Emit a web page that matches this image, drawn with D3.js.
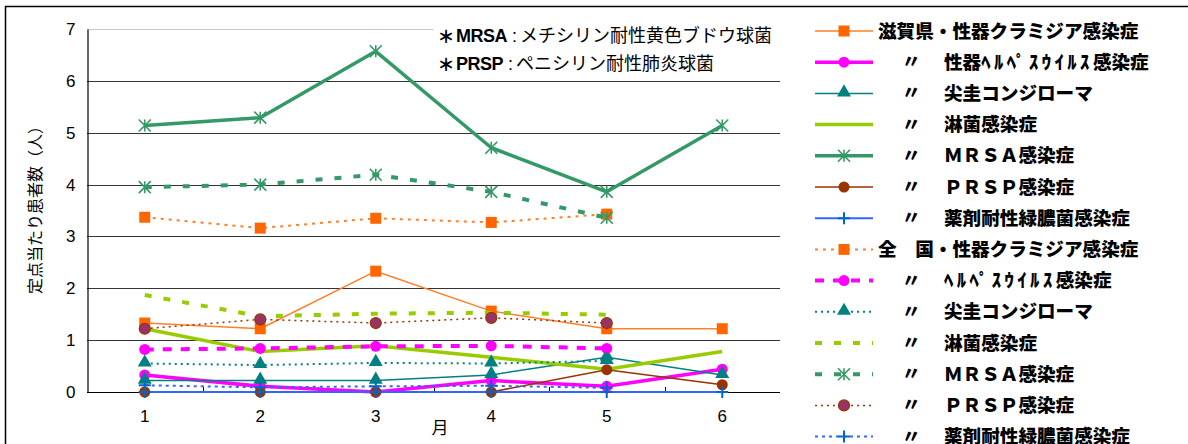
<!DOCTYPE html>
<html>
<head>
<meta charset="utf-8">
<title>定点当たり患者数</title>
<script src="https://d3js.org/d3.v7.min.js"></script>
<style>
  body { margin: 0; background: #fff; }
  svg { display: block; }
  .tick-label { font-family: "Liberation Sans", Arial, sans-serif; font-size: 17px; fill: #000; }
  .jp { font-family: "Noto Sans CJK JP", sans-serif; }
  .legend-text { font-family: "Noto Sans CJK JP", sans-serif; font-weight: 900; font-size: 18.6px; fill: #000; }
</style>
</head>
<body>
<svg id="chart" width="1188" height="444"></svg>
<script>
// data
var months = ["1", "2", "3", "4", "5", "6"];
var yTicks = [0, 1, 2, 3, 4, 5, 6, 7];

var shigaChlamydia   = [1.33, 1.22, 2.33, 1.56, 1.22, 1.22];
var shigaHerpes      = [0.33, 0.11, 0.00, 0.22, 0.11, 0.44];
var shigaCondyloma   = [0.22, 0.22, 0.22, 0.33, 0.67, 0.33];
var shigaGonorrhea   = [1.22, 0.78, 0.89, 0.67, 0.44, 0.78];
var shigaMRSA        = [5.14, 5.29, 6.57, 4.71, 3.86, 5.14];
var shigaPRSP        = [0.00, 0.00, 0.00, 0.00, 0.43, 0.14];
var shigaPseudomonas = [0.00, 0.00, 0.00, 0.00, 0.00, 0.00];

var natChlamydia   = [3.37, 3.16, 3.35, 3.27, 3.43];
var natHerpes      = [0.82, 0.84, 0.88, 0.89, 0.84];
var natCondyloma   = [0.55, 0.52, 0.56, 0.55, 0.60];
var natGonorrhea   = [1.87, 1.46, 1.51, 1.53, 1.49];
var natMRSA        = [3.95, 4.00, 4.19, 3.86, 3.36];
var natPRSP        = [1.22, 1.40, 1.33, 1.43, 1.33];
var natPseudomonas = [0.13, 0.09, 0.11, 0.12, 0.08];

// legend labels, split so half-width kana can be spaced like the original font
var legendLabels = [
  ["滋賀県・性器クラミジア感染症"], ["性器", "ﾍﾙﾍﾟｽｳｲﾙｽ", "感染症"], ["尖圭コンジローマ"], ["淋菌感染症"],
  ["ＭＲＳＡ感染症"], ["ＰＲＳＰ感染症"], ["薬剤耐性緑膿菌感染症"],
  ["全　国・性器クラミジア感染症"], ["", "ﾍﾙﾍﾟｽｳｲﾙｽ", "感染症"], ["尖圭コンジローマ"], ["淋菌感染症"],
  ["ＭＲＳＡ感染症"], ["ＰＲＳＰ感染症"], ["薬剤耐性緑膿菌感染症"]
];

// styles, one per series in legend order
var series = [
  {values: shigaChlamydia,   color: "#ff7f2a", width: 1.5, dash: null,   marker: "square",   mfill: "#ff6600", mstroke: "none"},
  {values: shigaHerpes,      color: "#ff00ff", width: 3.5, dash: null,   marker: "circle",   mfill: "#ff00ff", mstroke: "none"},
  {values: shigaCondyloma,   color: "#008080", width: 1.5, dash: null,   marker: "triangle", mfill: "#008080", mstroke: "none"},
  {values: shigaGonorrhea,   color: "#99cc00", width: 3.5, dash: null,   marker: null},
  {values: shigaMRSA,        color: "#339966", width: 3.5, dash: null,   marker: "star",     mfill: "none", mstroke: "#339966"},
  {values: shigaPRSP,        color: "#993300", width: 1.5, dash: null,   marker: "circle",   mfill: "#993300", mstroke: "none"},
  {values: shigaPseudomonas, color: "#3366ff", width: 2,   dash: null,   marker: "plus",     mfill: "none", mstroke: "#0066cc"},
  {values: natChlamydia,     color: "#ff7f2a", width: 2,   dash: "3,5",  marker: "square",   mfill: "#ff6600", mstroke: "none"},
  {values: natHerpes,        color: "#ff00ff", width: 4,   dash: "9,9",  marker: "circle",   mfill: "#ff00ff", mstroke: "none"},
  {values: natCondyloma,     color: "#008080", width: 2,   dash: "2,4",  marker: "triangle", mfill: "#008080", mstroke: "none"},
  {values: natGonorrhea,     color: "#99cc00", width: 4,   dash: "7,12", marker: null},
  {values: natMRSA,          color: "#339966", width: 4,   dash: "7,12", marker: "star",     mfill: "none", mstroke: "#339966"},
  {values: natPRSP,          color: "#993300", width: 1.5, dash: "2,4",  marker: "circle",   mfill: "#993366", mstroke: "#993300"},
  {values: natPseudomonas,   color: "#3366ff", width: 2,   dash: "3,4",  marker: "plus",     mfill: "none", mstroke: "#0066cc"}
];

var svg = d3.select("#chart");

// outer chart frame (cropped at right / bottom)
svg.append("path")
  .attr("d", "M5.5,444 L5.5,6.5 L1188,6.5")
  .attr("fill", "none").attr("stroke", "#000").attr("stroke-width", 1.5);

var x = d3.scaleBand().domain(months).range([87, 780]);
var y = d3.scaleLinear().domain([0, 7]).range([392, 29]);
var xc = function(m) { return x(m) + x.bandwidth() / 2; };

// gridlines
svg.append("g").selectAll("line").data(yTicks.filter(function(d) { return d > 0; }))
  .join("line")
  .attr("x1", 87).attr("x2", 780)
  .attr("y1", function(d) { return Math.round(y(d)) + 0.5; })
  .attr("y2", function(d) { return Math.round(y(d)) + 0.5; })
  .attr("stroke", function(d) { return d === 7 ? "#c8c8c8" : "#333"; })
  .attr("stroke-width", 1.2);

// annotation box (covers top border line)
svg.append("rect").attr("x", 433).attr("y", 18).attr("width", 347).attr("height", 58).attr("fill", "#fff");

// axes
var yAxis = d3.axisLeft(y).tickValues(yTicks).tickFormat(d3.format("d")).tickSize(0).tickPadding(12);
var gy = svg.append("g").attr("transform", "translate(87.5,0)").call(yAxis);
gy.select(".domain").attr("stroke", "#000").attr("stroke-width", 1.2);
gy.selectAll("text").attr("class", "tick-label").attr("font-size", null).attr("font-family", null);

svg.append("line").attr("x1", 87).attr("x2", 780).attr("y1", 392.5).attr("y2", 392.5)
  .attr("stroke", "#000").attr("stroke-width", 1.2);
// category separator ticks (inside)
svg.append("g").selectAll("line").data(months.slice(1))
  .join("line")
  .attr("x1", function(m) { return Math.round(x(m)) + 0.5; })
  .attr("x2", function(m) { return Math.round(x(m)) + 0.5; })
  .attr("y1", 392).attr("y2", 387)
  .attr("stroke", "#000").attr("stroke-width", 1);
svg.append("g").selectAll("text").data(months)
  .join("text")
  .attr("class", "tick-label")
  .attr("x", xc).attr("y", 422)
  .attr("text-anchor", "middle")
  .text(function(d) { return d; });

// axis titles
svg.append("text").attr("class", "jp")
  .attr("transform", "translate(41,206) rotate(-90)")
  .attr("text-anchor", "middle").attr("font-size", 16)
  .text("定点当たり患者数（人）");
svg.append("text").attr("class", "jp")
  .attr("x", 440).attr("y", 434).attr("text-anchor", "middle").attr("font-size", 17)
  .text("月");

// annotation
var notes = [["MRSA", "メチシリン耐性黄色ブドウ球菌"], ["PRSP", "ペニシリン耐性肺炎球菌"]];
notes.forEach(function(n, i) {
  var ny = 42 + i * 28;
  svg.append("text").attr("class", "jp").attr("x", 446).attr("y", ny + 1)
    .attr("text-anchor", "middle").attr("font-weight", 900).attr("font-size", 17).text("＊");
  var t = svg.append("text").attr("x", 456).attr("y", ny).attr("font-size", 18);
  t.append("tspan").attr("font-family", "Liberation Sans, Arial, sans-serif").attr("font-weight", 700)
    .attr("letter-spacing", -0.5).text(n[0]);
  t.append("tspan").attr("font-family", "Liberation Sans, Arial, sans-serif").text(" : ");
  t.append("tspan").attr("class", "jp").attr("dx", -2).text(n[1]);
});

// marker drawing
function drawMarker(g, s, cx, cy) {
  if (!s.marker) return;
  if (s.marker === "star") {
    var r = 6;
    g.append("path")
      .attr("d", "M0," + (-r) + "V" + r + "M" + (-r) + "," + (-r) + "L" + r + "," + r + "M" + (-r) + "," + r + "L" + r + "," + (-r))
      .attr("transform", "translate(" + cx + "," + cy + ")")
      .attr("fill", "none").attr("stroke", s.mstroke).attr("stroke-width", 1.6);
  } else if (s.marker === "plus") {
    var p = 6;
    g.append("path")
      .attr("d", "M0," + (-p) + "V" + p + "M" + (-p) + ",0H" + p)
      .attr("transform", "translate(" + cx + "," + cy + ")")
      .attr("fill", "none").attr("stroke", s.mstroke).attr("stroke-width", 2);
  } else {
    var types = {square: d3.symbolSquare, circle: d3.symbolCircle, triangle: d3.symbolTriangle};
    var sizes = {square: 121, circle: 95, triangle: 85};
    g.append("path")
      .attr("d", d3.symbol().type(types[s.marker]).size(sizes[s.marker])())
      .attr("transform", "translate(" + cx + "," + (s.marker === "triangle" ? cy - 1 : cy) + ")")
      .attr("fill", s.mfill).attr("stroke", s.mstroke).attr("stroke-width", 1.2);
  }
}

// series
var line = d3.line()
  .x(function(d, i) { return xc(months[i]); })
  .y(function(d) { return y(d); });

var plot = svg.append("g");
series.forEach(function(s) {
  var g = plot.append("g");
  g.append("path").attr("d", line(s.values))
    .attr("fill", "none").attr("stroke", s.color).attr("stroke-width", s.width)
    .attr("stroke-dasharray", s.dash).attr("stroke-linejoin", "round");
  s.values.forEach(function(v, i) { drawMarker(g, s, xc(months[i]), y(v)); });
});

// legend
var legend = svg.append("g");
series.forEach(function(s, i) {
  var ly = 31 + i * 31.2;
  var g = legend.append("g");
  g.append("line").attr("x1", 815).attr("x2", 873).attr("y1", ly).attr("y2", ly)
    .attr("stroke", s.color).attr("stroke-width", s.width).attr("stroke-dasharray", s.dash);
  drawMarker(g, s, 844, ly);
  var first = (i === 0 || i === 7);
  if (!first) {
    g.append("text").attr("class", "legend-text").attr("x", 902).attr("y", ly + 6).text("〃");
  }
  var t = g.append("text").attr("class", "legend-text")
    .attr("x", first ? 878 : 944).attr("y", ly + 6.5);
  var parts = legendLabels[i];
  if (parts.length === 1) {
    t.text(parts[0]);
  } else {
    t.append("tspan").text(parts[0]);
    t.append("tspan").attr("letter-spacing", 3.5).text(parts[1]);
    t.append("tspan").text(parts[2]);
  }
});
</script>
</body>
</html>
